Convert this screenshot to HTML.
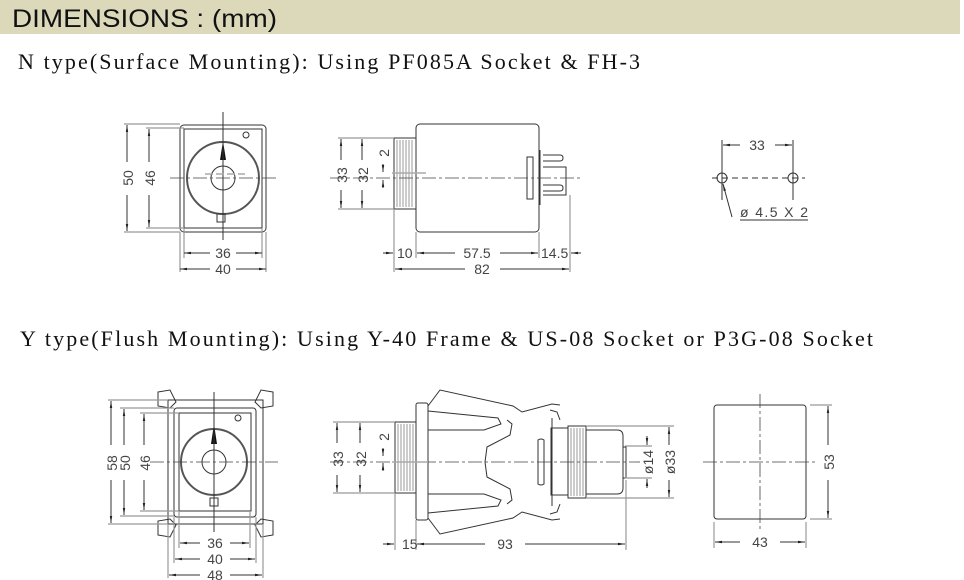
<!DOCTYPE html>
<html><head><meta charset="utf-8"><style>
html,body{margin:0;padding:0;background:#fff;}
svg{display:block}
.l{stroke:#333;stroke-width:1;fill:none}
.g{stroke:#999;stroke-width:1.2;fill:none}
.c{stroke:#444;stroke-width:0.8;fill:none;stroke-dasharray:14 3 3 3}
.t{font-family:"Liberation Sans",sans-serif;font-size:14px;fill:#444}
.s{font-family:"Liberation Serif",serif;font-size:22px;fill:#111}
</style></head><body>
<svg width="964" height="580" viewBox="0 0 964 580" xmlns="http://www.w3.org/2000/svg">
<defs>
<marker id="a" markerWidth="8" markerHeight="6" refX="7" refY="3" orient="auto-start-reverse"><path d="M0,1.8 L7,3 L0,4.2z" fill="#222"/></marker>
</defs>
<rect x="0" y="0" width="960" height="34" fill="#dbd9b9"/>
<text x="12" y="27" textLength="265" lengthAdjust="spacingAndGlyphs" style="font-family:'Liberation Sans',sans-serif;font-size:25px;fill:#111">DIMENSIONS : (mm)</text>
<text x="18" y="69" class="s" textLength="622" lengthAdjust="spacing">N type(Surface Mounting): Using PF085A Socket &amp; FH-3</text>
<text x="20" y="346" class="s" textLength="853" lengthAdjust="spacing">Y type(Flush Mounting): Using Y-40 Frame &amp; US-08 Socket or P3G-08 Socket</text>

<!-- N front -->
<rect x="180" y="125" width="86" height="107" rx="4" class="l"/>
<rect x="184" y="129" width="78" height="99" class="l"/>
<circle cx="223" cy="178" r="36" stroke="#555" stroke-width="2" fill="none"/>
<circle cx="223" cy="178" r="12" class="l"/>
<path d="M223,141 L220,160 L226,160z" fill="#111"/>
<circle cx="246" cy="135" r="3" class="l"/>
<rect x="217" y="214" width="8" height="8" class="l"/>
<line x1="223" y1="112" x2="223" y2="240" class="l"/>
<line x1="170" y1="178" x2="277" y2="178" class="c"/>
<line x1="205" y1="174" x2="245" y2="174" stroke="#aaa" stroke-width="1.5" stroke-dasharray="8 3"/>
<path d="M124,124 H180 M146,128 H184 M124,232 H180 M146,228 H184" class="g"/>
<line x1="127" y1="125" x2="127" y2="162" class="l" marker-start="url(#a)"/><line x1="127" y1="195" x2="127" y2="231" class="l" marker-end="url(#a)"/>
<text x="133" y="178" class="t" transform="rotate(-90 133 178)" text-anchor="middle">50</text>
<line x1="149" y1="129" x2="149" y2="162" class="l" marker-start="url(#a)"/><line x1="149" y1="195" x2="149" y2="227" class="l" marker-end="url(#a)"/>
<text x="155" y="178" class="t" transform="rotate(-90 155 178)" text-anchor="middle">46</text>
<path d="M180,232 V272 M266,232 V272 M184,228 V258 M262,228 V258" class="g"/>
<line x1="184" y1="253" x2="210" y2="253" class="l" marker-start="url(#a)"/><line x1="236" y1="253" x2="262" y2="253" class="l" marker-end="url(#a)"/>
<text x="223" y="258" class="t" text-anchor="middle">36</text>
<line x1="180" y1="269" x2="210" y2="269" class="l" marker-start="url(#a)"/><line x1="236" y1="269" x2="266" y2="269" class="l" marker-end="url(#a)"/>
<text x="223" y="274" class="t" text-anchor="middle">40</text>

<!-- N side -->
<rect x="416" y="124" width="123" height="108" rx="4" class="l"/>
<rect x="394" y="138" width="22" height="71" class="l"/>
<g stroke="#999" stroke-width="1"><path d="M397,140V207M400,140V207M403,140V207M406,140V207M409,140V207M412,140V207"/></g>
<path d="M540,150 V205 M543,155 H560 Q563,155 563,158 Q563,161 560,161 H543 M543,167 H566 V195 H543 M543,185 H560 Q563,185 563,188 Q563,191 560,191 H543" class="l"/>
<path d="M527,157 L533,157 L533,199 L527,199z" class="l"/>
<line x1="330" y1="178" x2="580" y2="178" class="c"/>
<line x1="392" y1="173" x2="426" y2="173" stroke="#aaa" stroke-width="1.5"/>
<path d="M338,138 H394 M358,138 H394 M338,209 H394" class="g"/>
<line x1="341" y1="139" x2="341" y2="160" class="l" marker-start="url(#a)"/><line x1="341" y1="190" x2="341" y2="208" class="l" marker-end="url(#a)"/>
<text x="347" y="175" class="t" transform="rotate(-90 347 175)" text-anchor="middle">33</text>
<line x1="362" y1="139" x2="362" y2="160" class="l" marker-start="url(#a)"/><line x1="362" y1="190" x2="362" y2="208" class="l" marker-end="url(#a)"/>
<text x="368" y="175" class="t" transform="rotate(-90 368 175)" text-anchor="middle">32</text>
<line x1="383" y1="164" x2="383" y2="172" class="l" marker-end="url(#a)"/><line x1="383" y1="188" x2="383" y2="180" class="l" marker-end="url(#a)"/>
<text x="389" y="153" class="t" transform="rotate(-90 389 153)" text-anchor="middle">2</text>
<path d="M394,209 V272 M416,232 V258 M539,232 V258 M570,195 V272" class="g"/>
<line x1="383" y1="253" x2="393" y2="253" class="l" marker-end="url(#a)"/>
<text x="397" y="258" class="t">10</text>
<line x1="417" y1="253" x2="455" y2="253" class="l" marker-start="url(#a)"/><line x1="500" y1="253" x2="538" y2="253" class="l" marker-end="url(#a)"/>
<text x="477" y="258" class="t" text-anchor="middle">57.5</text>
<text x="541" y="258" class="t">14.5</text>
<line x1="581" y1="253" x2="571" y2="253" class="l" marker-end="url(#a)"/>
<line x1="395" y1="269" x2="465" y2="269" class="l" marker-start="url(#a)"/><line x1="500" y1="269" x2="569" y2="269" class="l" marker-end="url(#a)"/>
<text x="482" y="274" class="t" text-anchor="middle">82</text>

<!-- FH-3 -->
<circle cx="722" cy="178" r="5" class="l"/><circle cx="793" cy="178" r="5" class="l"/>
<line x1="712" y1="178" x2="805" y2="178" class="l" stroke-dasharray="6 4"/>
<path d="M722,140 V200 M793,140 V200" class="l"/>
<line x1="723" y1="145" x2="740" y2="145" class="l" marker-start="url(#a)"/><line x1="775" y1="145" x2="792" y2="145" class="l" marker-end="url(#a)"/>
<text x="757" y="150" class="t" text-anchor="middle">33</text>
<line x1="732" y1="217" x2="723" y2="184" class="l" marker-end="url(#a)"/>
<text x="740" y="217" class="t" textLength="68" lengthAdjust="spacing">ø 4.5 X 2</text>
<line x1="740" y1="220" x2="808" y2="220" class="l"/>

<!-- Y front -->
<rect x="168" y="400" width="95" height="124" class="l"/>
<rect x="174" y="408" width="82" height="109" rx="3" class="l"/>
<rect x="179" y="413" width="72" height="98" class="l"/>
<g class="l">
<path d="M158,392 L170,390 L176,402 L170,408 L158,406z M158,535 L170,537 L176,525 L170,519 L158,521z M273,392 L261,390 L255,402 L261,408 L273,406z M273,535 L261,537 L255,525 L261,519 L273,521z"/>
</g>
<circle cx="214" cy="462" r="33" stroke="#555" stroke-width="2" fill="none"/>
<circle cx="214" cy="462" r="12" class="l"/>
<path d="M214,424 L211,444 L217,444z" fill="#111"/>
<circle cx="238" cy="418" r="3" class="l"/>
<rect x="210" y="498" width="8" height="8" class="l"/>
<line x1="214" y1="392" x2="214" y2="532" class="l"/>
<line x1="150" y1="462" x2="278" y2="462" class="c"/>
<path d="M108,400 H168 M120,408 H174 M140,413 H179 M108,524 H168 M120,516 H174 M140,511 H179" class="g"/>
<line x1="111" y1="401" x2="111" y2="445" class="l" marker-start="url(#a)"/><line x1="111" y1="480" x2="111" y2="523" class="l" marker-end="url(#a)"/>
<text x="117" y="463" class="t" transform="rotate(-90 117 463)" text-anchor="middle">58</text>
<line x1="124" y1="409" x2="124" y2="445" class="l" marker-start="url(#a)"/><line x1="124" y1="480" x2="124" y2="515" class="l" marker-end="url(#a)"/>
<text x="130" y="463" class="t" transform="rotate(-90 130 463)" text-anchor="middle">50</text>
<line x1="144" y1="414" x2="144" y2="445" class="l" marker-start="url(#a)"/><line x1="144" y1="480" x2="144" y2="510" class="l" marker-end="url(#a)"/>
<text x="150" y="463" class="t" transform="rotate(-90 150 463)" text-anchor="middle">46</text>
<path d="M168,524 V578 M263,524 V578 M174,517 V563 M256,517 V563 M179,511 V548 M250,511 V548" class="g"/>
<line x1="180" y1="543" x2="200" y2="543" class="l" marker-start="url(#a)"/><line x1="230" y1="543" x2="249" y2="543" class="l" marker-end="url(#a)"/>
<text x="215" y="548" class="t" text-anchor="middle">36</text>
<line x1="175" y1="559" x2="200" y2="559" class="l" marker-start="url(#a)"/><line x1="230" y1="559" x2="255" y2="559" class="l" marker-end="url(#a)"/>
<text x="215" y="564" class="t" text-anchor="middle">40</text>
<line x1="169" y1="575" x2="200" y2="575" class="l" marker-start="url(#a)"/><line x1="230" y1="575" x2="262" y2="575" class="l" marker-end="url(#a)"/>
<text x="215" y="580" class="t" text-anchor="middle">48</text>

<!-- Y side -->
<rect x="395" y="422" width="21" height="71" class="l"/>
<g stroke="#999" stroke-width="1"><path d="M398,424V491M401,424V491M404,424V491M407,424V491M410,424V491M413,424V491"/></g>
<rect x="416" y="403" width="12" height="117" rx="2" class="l"/>
<g id="th" class="l">
<path d="M428,406 L440,390 L513,406 L522,412 L552,404 L560,405"/>
<path d="M428,411 L498,418 L501,424 L484,430 L428,430"/>
<path d="M507,420 L512,424 L510,435 L487,447 L485,462"/>
<path d="M550,410 L557,412 L560,420 M552,418 V462"/>
<path d="M538,462 V440 Q541,438 544,440 V462"/>
</g>
<use href="#th" transform="translate(0,924) scale(1,-1)"/>
<rect x="551" y="428" width="17" height="67" class="l"/>
<rect x="568" y="426" width="18" height="72" class="l"/>
<g stroke="#999" stroke-width="1"><path d="M571,428V496M574,428V496M577,428V496M580,428V496M583,428V496"/></g>
<path d="M586,430 H617 Q623,430 623,436 V488 Q623,494 617,494 H586" class="l"/>
<path d="M623,447 H626 V478 H623" class="l"/>
<line x1="330" y1="462" x2="640" y2="462" class="c"/>
<line x1="392" y1="462" x2="428" y2="462" stroke="#aaa" stroke-width="1.5"/>
<path d="M333,422 H395 M355,422 H395 M333,493 H395" class="g"/>
<line x1="337" y1="423" x2="337" y2="443" class="l" marker-start="url(#a)"/><line x1="337" y1="475" x2="337" y2="492" class="l" marker-end="url(#a)"/>
<text x="343" y="459" class="t" transform="rotate(-90 343 459)" text-anchor="middle">33</text>
<line x1="360" y1="423" x2="360" y2="443" class="l" marker-start="url(#a)"/><line x1="360" y1="475" x2="360" y2="492" class="l" marker-end="url(#a)"/>
<text x="366" y="459" class="t" transform="rotate(-90 366 459)" text-anchor="middle">32</text>
<line x1="383" y1="448" x2="383" y2="456" class="l" marker-end="url(#a)"/><line x1="383" y1="471" x2="383" y2="463" class="l" marker-end="url(#a)"/>
<text x="389" y="437" class="t" transform="rotate(-90 389 437)" text-anchor="middle">2</text>
<path d="M395,493 V550 M416,520 V550 M626,480 V550" class="g"/>
<line x1="383" y1="544" x2="394" y2="544" class="l" marker-end="url(#a)"/>
<text x="402" y="549" class="t">15</text>
<line x1="417" y1="544" x2="485" y2="544" class="l" marker-start="url(#a)"/><line x1="525" y1="544" x2="625" y2="544" class="l" marker-end="url(#a)"/>
<text x="505" y="549" class="t" text-anchor="middle">93</text>
<path d="M625,446 H652 M625,478 H652 M586,426 H674 M586,498 H674" class="g"/>
<line x1="647" y1="436" x2="647" y2="445" class="l" marker-end="url(#a)"/><line x1="647" y1="488" x2="647" y2="479" class="l" marker-end="url(#a)"/>
<text x="653" y="462" class="t" transform="rotate(-90 653 462)" text-anchor="middle">ø14</text>
<line x1="669" y1="427" x2="669" y2="445" class="l" marker-start="url(#a)"/><line x1="669" y1="480" x2="669" y2="497" class="l" marker-end="url(#a)"/>
<text x="675" y="462" class="t" transform="rotate(-90 675 462)" text-anchor="middle">ø33</text>

<!-- panel cutout -->
<rect x="714" y="405" width="92" height="114" rx="3" class="l"/>
<line x1="760" y1="394" x2="760" y2="530" class="c"/>
<line x1="703" y1="462" x2="818" y2="462" class="c"/>
<path d="M810,405 H832 M810,519 H832 M714,522 V548 M806,522 V548" class="g"/>
<line x1="828" y1="406" x2="828" y2="445" class="l" marker-start="url(#a)"/><line x1="828" y1="480" x2="828" y2="518" class="l" marker-end="url(#a)"/>
<text x="834" y="462" class="t" transform="rotate(-90 834 462)" text-anchor="middle">53</text>
<line x1="715" y1="542" x2="740" y2="542" class="l" marker-start="url(#a)"/><line x1="780" y1="542" x2="805" y2="542" class="l" marker-end="url(#a)"/>
<text x="760" y="547" class="t" text-anchor="middle">43</text>
</svg>
</body></html>
